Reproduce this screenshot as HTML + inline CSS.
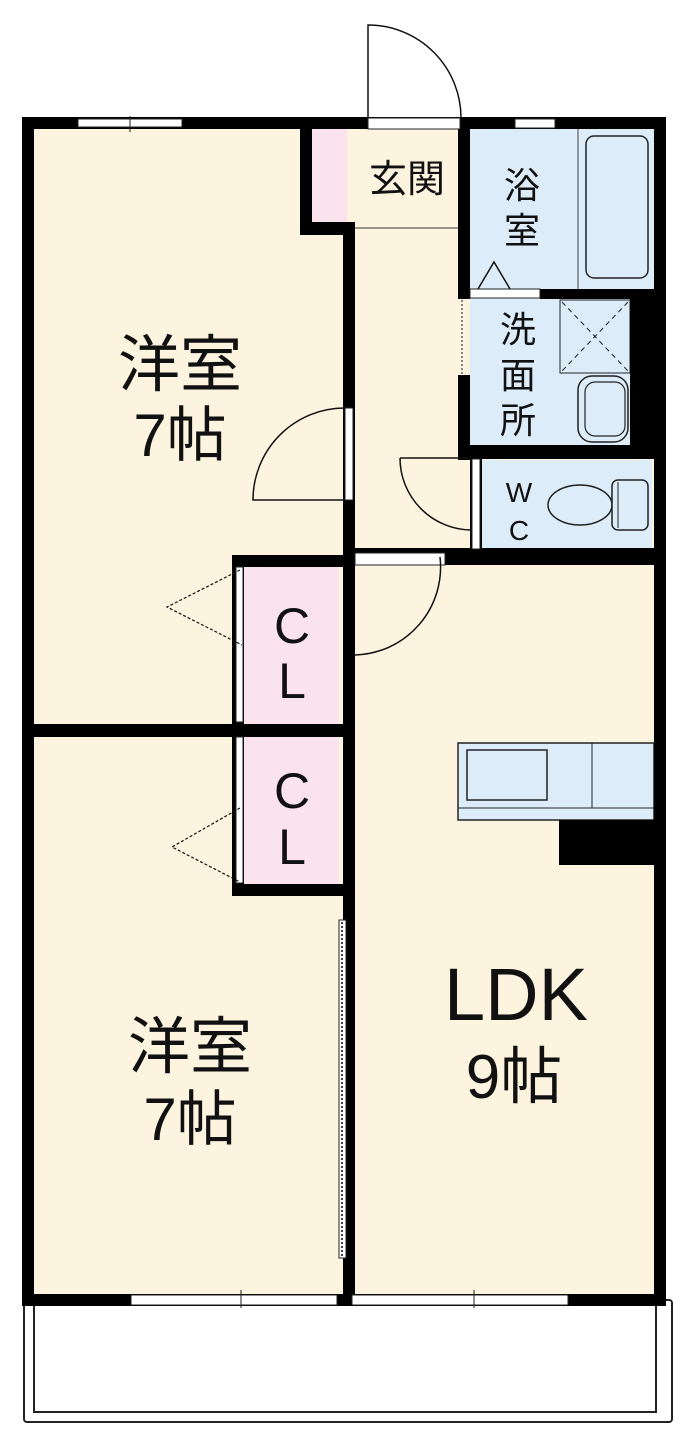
<!DOCTYPE html>
<html><head><meta charset="utf-8"><style>
html,body{margin:0;padding:0;background:#fff;}
svg{display:block;}
text{font-family:"Liberation Sans","Noto Sans CJK JP",sans-serif;fill:#111;text-anchor:middle;}
</style></head><body>
<svg width="700" height="1435" viewBox="0 0 700 1435" xmlns="http://www.w3.org/2000/svg">
<rect x="24" y="1300" width="648" height="122" fill="#fff" stroke="#222" stroke-width="2" rx="3"/>
<rect x="34" y="1300" width="622" height="112" fill="#fff" stroke="#222" stroke-width="2"/>
<rect x="34" y="129" width="620" height="1166" fill="#fdf4df"/>
<rect x="312" y="129" width="35" height="93" fill="#fbe3ee"/>
<rect x="244" y="567" width="95" height="157" fill="#fbe3ee"/>
<rect x="244" y="737" width="95" height="148" fill="#fbe3ee"/>
<rect x="470" y="129" width="184" height="160" fill="#dcedf9"/>
<rect x="470" y="298" width="162" height="147" fill="#dcedf9"/>
<rect x="482" y="460" width="170" height="88" fill="#dcedf9"/>
<line x1="578" y1="129" x2="578" y2="289" stroke="#444" stroke-width="1"/>
<rect x="586" y="136" width="62" height="142" rx="8" fill="#dcedf9" stroke="#222" stroke-width="1.5"/>
<rect x="560" y="300" width="70" height="73" fill="#dcedf9" stroke="#222" stroke-width="1"/>
<line x1="562" y1="302" x2="628" y2="371" stroke="#222" stroke-dasharray="5,4"/>
<line x1="628" y1="302" x2="562" y2="371" stroke="#222" stroke-dasharray="5,4"/>
<rect x="578" y="376" width="50" height="66" rx="14" fill="none" stroke="#222" stroke-width="1.5"/>
<rect x="585" y="382" width="40" height="54" rx="10" fill="none" stroke="#222" stroke-width="1.2"/>
<ellipse cx="580" cy="505" rx="32" ry="20" fill="none" stroke="#222" stroke-width="1.5"/>
<rect x="612" y="480" width="36" height="50" rx="6" fill="#dcedf9" stroke="#222" stroke-width="1.5"/>
<line x1="618" y1="482" x2="618" y2="528" stroke="#222"/>
<rect x="458" y="743" width="196" height="77" fill="#dcedf9" stroke="#222" stroke-width="1.5"/>
<line x1="458" y1="808" x2="654" y2="808" stroke="#222"/>
<rect x="467" y="750" width="80" height="50" fill="none" stroke="#222" stroke-width="1.5"/>
<line x1="592" y1="743" x2="592" y2="808" stroke="#222"/>
<rect x="559" y="820" width="96" height="45" fill="#000"/>
<g fill="#000">
<rect x="22" y="117" width="644" height="12"/>
<rect x="22" y="117" width="12" height="1189"/>
<rect x="654" y="117" width="12" height="1189"/>
<rect x="22" y="1294" width="644" height="12"/>
<rect x="300" y="129" width="12" height="106"/>
<rect x="300" y="222" width="52" height="13"/>
<rect x="343" y="222" width="12" height="1080"/>
<rect x="458" y="129" width="12" height="170"/>
<rect x="540" y="289" width="126" height="10"/>
<rect x="630" y="289" width="36" height="170"/>
<rect x="458" y="375" width="12" height="85"/>
<rect x="458" y="445" width="208" height="14"/>
<rect x="470" y="459" width="12" height="106"/>
<rect x="355" y="548" width="311" height="17"/>
<rect x="232" y="555" width="112" height="12"/>
<rect x="232" y="555" width="12" height="341"/>
<rect x="34" y="724" width="310" height="13"/>
<rect x="232" y="884" width="112" height="12"/>
</g>
<g fill="#fff" stroke="#222" stroke-width="1">
<rect x="78" y="119" width="104" height="8"/>
<rect x="515" y="119" width="40" height="9"/>
<rect x="368" y="118" width="92" height="11"/>
<rect x="345" y="408" width="8" height="92"/>
<rect x="470" y="289" width="70" height="9"/>
<rect x="472" y="459" width="8" height="90"/>
<rect x="355" y="553" width="90" height="12"/>
<rect x="236" y="567" width="7" height="155"/>
<rect x="236" y="737" width="7" height="146"/>
<rect x="339" y="920" width="7" height="338"/>
<rect x="131" y="1295" width="206" height="10"/>
<rect x="352" y="1295" width="216" height="10"/>
</g>
<line x1="130" y1="116" x2="130" y2="132" stroke="#222"/>
<line x1="241" y1="1290" x2="241" y2="1308" stroke="#222"/>
<line x1="474" y1="1290" x2="474" y2="1308" stroke="#222"/>
<line x1="462" y1="300" x2="462" y2="375" stroke="#888" stroke-dasharray="2,2" stroke-width="2"/>
<line x1="342" y1="922" x2="342" y2="1256" stroke="#444" stroke-dasharray="2,2" stroke-width="2"/>
<line x1="355" y1="228" x2="458" y2="228" stroke="#333"/>
<g fill="none" stroke="#111" stroke-width="1.5">
<path d="M368 118 V25 A93 93 0 0 1 461 118"/>
<path d="M345 408 A92 92 0 0 0 253 500 H345"/>
<path d="M400 458 H470 M400 458 A72 72 0 0 0 472 530"/>
<path d="M440 557 A88 88 0 0 1 355 655"/>
<path d="M478 289 L494 262 L510 289"/>
<path d="M240 570 L167 607 L242 645" stroke-dasharray="3,2" stroke-width="1.2"/>
<path d="M240 808 L172 847 L240 882" stroke-dasharray="3,2" stroke-width="1.2"/>
</g>
<text x="180" y="386" font-size="62">洋室</text>
<text x="180" y="456" font-size="60">7帖</text>
<text x="190" y="1068" font-size="62">洋室</text>
<text x="190" y="1140" font-size="60">7帖</text>
<text x="516" y="1020" font-size="74">LDK</text>
<text x="514" y="1098" font-size="62">9帖</text>
<text x="407" y="192" font-size="38">玄関</text>
<text x="522" y="198" font-size="36">浴</text>
<text x="522" y="243" font-size="36">室</text>
<text x="518" y="342" font-size="36">洗</text>
<text x="518" y="388" font-size="36">面</text>
<text x="518" y="433" font-size="36">所</text>
<text x="519" y="502" font-size="28">W</text>
<text x="519" y="540" font-size="28">C</text>
<text x="292" y="643" font-size="50">C</text>
<text x="292" y="698" font-size="50">L</text>
<text x="292" y="808" font-size="50">C</text>
<text x="292" y="864" font-size="50">L</text>
</svg>
</body></html>
